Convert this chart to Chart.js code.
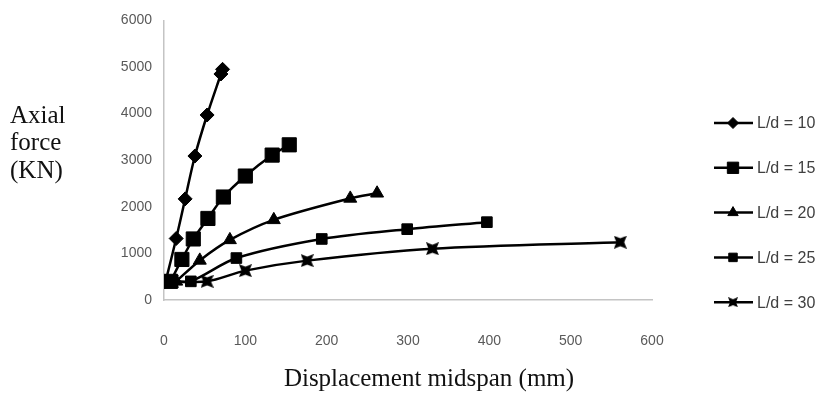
<!DOCTYPE html>
<html lang="en">
  <head>
    <meta charset="UTF-8" />
    <title>Axial force vs displacement</title>
    <script src="https://cdn.jsdelivr.net/npm/chart.js"></script>
    <style>
      html, body { margin: 0; padding: 0; background: #fff; }
      .wrap { width: 824px; height: 394px; position: relative; }
    </style>
  </head>
  <body>
    <div class="wrap">
      <canvas id="forceChart"></canvas>
    </div>

<script>
  // values (displacement mm, axial force kN)
  const seriesNames = ["L/d = 10", "L/d = 15", "L/d = 20", "L/d = 25", "L/d = 30"];

  const ld10X = [2, 15, 26, 38, 53, 70, 72];
  const ld10Y = [400, 1320, 2170, 3090, 3970, 4850, 4950];

  const ld15X = [8, 22, 36, 54, 73, 100, 133, 154];
  const ld15Y = [400, 870, 1310, 1750, 2210, 2660, 3110, 3330];

  const ld20X = [15, 44, 81, 135, 229, 262];
  const ld20Y = [400, 850, 1290, 1720, 2180, 2290];

  const ld25X = [10, 33, 89, 194, 299, 397];
  const ld25Y = [400, 400, 900, 1310, 1520, 1670];

  const ld30X = [10, 53, 100, 176, 330, 561];
  const ld30Y = [400, 400, 630, 845, 1100, 1240];

  const xTicks = [0, 100, 200, 300, 400, 500, 600];
  const yTicks = [0, 1000, 2000, 3000, 4000, 5000, 6000];

  function toPoints(xs, ys) {
    return xs.map((x, i) => ({ x: x, y: ys[i] }));
  }

  // "bowtie" square marker like the excel one
  function bowtie(size) {
    const c = document.createElement("canvas");
    c.width = size; c.height = size;
    const g = c.getContext("2d");
    const s = size;
    g.fillStyle = "#000";
    g.beginPath();
    g.moveTo(0, 0);
    g.lineTo(s / 2, s * 0.2);
    g.lineTo(s, 0);
    g.lineTo(s * 0.8, s / 2);
    g.lineTo(s, s);
    g.lineTo(s / 2, s * 0.8);
    g.lineTo(0, s);
    g.lineTo(s * 0.2, s / 2);
    g.closePath();
    g.fill();
    return c;
  }

  const markers = ["rectRot", "rect", "triangle", "rect", bowtie(13)];
  const markerSizes = [7, 10, 7.5, 7.5, 6];
  const legendMarkers = ["rectRot", "rect", "triangle", "rect", bowtie(10)];
  const legendSizes = [5.5, 8, 6, 6, 5];

  const allX = [ld10X, ld15X, ld20X, ld25X, ld30X];
  const allY = [ld10Y, ld15Y, ld20Y, ld25Y, ld30Y];

  const datasets = seriesNames.map((name, i) => ({
    label: name,
    data: toPoints(allX[i], allY[i]),
    showLine: true,
    borderColor: "#000",
    backgroundColor: "#000",
    borderWidth: 2.5,
    tension: 0.3,
    pointStyle: markers[i],
    pointRadius: markerSizes[i],
    pointBorderWidth: 1,
  }));

  const tickFont = { family: "'Liberation Sans', sans-serif", size: 14 };

  // titles and legend are drawn by hand so they sit where the picture has them
  const extras = {
    id: "extras",
    afterDraw(chart) {
      const ctx = chart.ctx;
      ctx.save();
      ctx.fillStyle = "#111";
      ctx.font = "25px 'Liberation Serif', 'Times New Roman', serif";
      ctx.textBaseline = "alphabetic";
      ctx.textAlign = "left";
      ctx.fillText("Axial", 10, 123);
      ctx.fillText("force", 10, 150);
      ctx.fillText("(KN)", 10, 178);
      ctx.textAlign = "center";
      ctx.fillText("Displacement midspan (mm)", 429, 386);

      // legend
      ctx.font = "16px " + tickFont.family;
      ctx.textAlign = "left";
      ctx.textBaseline = "middle";
      seriesNames.forEach((name, i) => {
        const y = 123 + i * 44.8;
        ctx.strokeStyle = "#000";
        ctx.lineWidth = 2.5;
        ctx.beginPath();
        ctx.moveTo(714, y);
        ctx.lineTo(753, y);
        ctx.stroke();
        ctx.fillStyle = "#000";
        ctx.lineWidth = 1;
        Chart.helpers.drawPoint(ctx, {
          pointStyle: legendMarkers[i],
          radius: legendSizes[i],
          rotation: 0,
          borderWidth: 1,
        }, 733, y);
        ctx.fillStyle = "#404040";
        ctx.fillText(name, 757, y + 1);
      });
      ctx.restore();
    },
  };

  const ctxForce = document.getElementById("forceChart").getContext("2d");

  const forceChart = new Chart(ctxForce, {
    type: "scatter",
    data: { datasets: datasets },
    options: {
      responsive: true,
      maintainAspectRatio: false,
      animation: false,
      layout: { padding: { left: 0, right: 172, top: 17, bottom: 0 } },
      plugins: {
        legend: { display: false },
        tooltip: { enabled: false },
      },
      scales: {
        x: {
          type: "linear",
          min: 0,
          max: 600,
          afterBuildTicks: (s) => { s.ticks = xTicks.map((v) => ({ value: v })); },
          afterFit: (s) => { s.height = 94; },
          grid: { display: false, drawTicks: false },
          border: { color: "#c4c4c4", width: 1.5 },
          ticks: { color: "#595959", font: tickFont, padding: 33, maxRotation: 0, callback: (v) => String(v) },
        },
        y: {
          type: "linear",
          min: 0,
          max: 6000,
          afterBuildTicks: (s) => { s.ticks = yTicks.map((v) => ({ value: v })); },
          afterFit: (s) => { s.width = 164; },
          grid: { display: false, drawTicks: false },
          border: { color: "#c4c4c4", width: 1.5 },
          ticks: { color: "#595959", font: tickFont, padding: 12, callback: (v) => String(v) },
        },
      },
    },
    plugins: [extras],
  });
</script>
  </body>
</html>
